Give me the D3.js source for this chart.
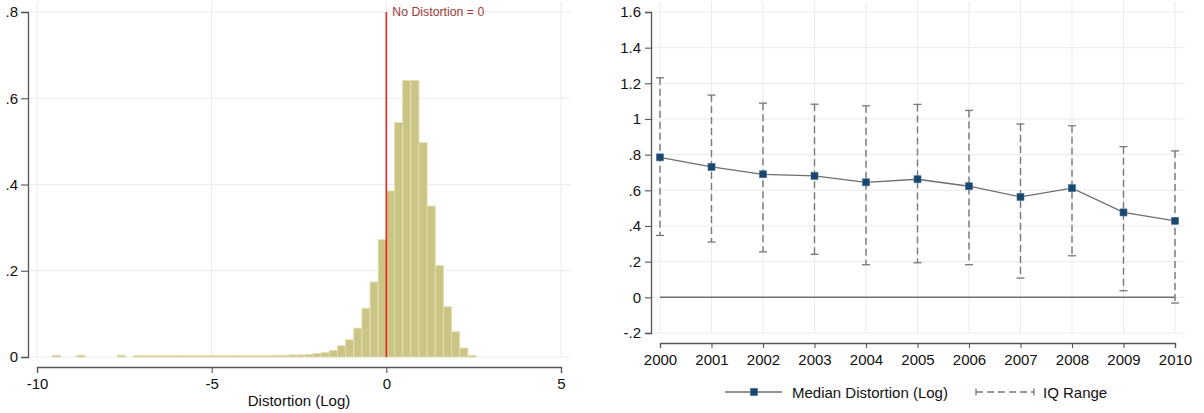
<!DOCTYPE html>
<html>
<head>
<meta charset="utf-8">
<script src="https://cdn.jsdelivr.net/npm/d3@7"></script>
<style>
  body { margin: 0; background: #fff; }
  svg { display: block; }
  text { font-family: "Liberation Sans", Arial, sans-serif; fill: #111; }
</style>
</head>
<body>
<div id="chart"></div>
<script>
// size of svg
var svgWidth = 1204;
var svgHeight = 413;

// histogram data: bins start at binStart, each binWidth wide
var binStart = -9.56;
var binWidth = 0.2332;
var density = [
  0.004, 0, 0, 0.004, 0, 0, 0, 0, 0.004, 0,
  0.003, 0.003, 0.003, 0.003, 0.003, 0.003, 0.003, 0.003, 0.003, 0.003,
  0.003, 0.003, 0.003, 0.003, 0.003, 0.003, 0.003, 0.004, 0.004, 0.005,
  0.005, 0.006, 0.008, 0.010, 0.015, 0.026, 0.040, 0.067, 0.113, 0.174,
  0.272, 0.385, 0.544, 0.641, 0.641, 0.497, 0.350, 0.212, 0.1165, 0.0586,
  0.0208, 0.004
];
var histXTicks = [-10, -5, 0, 5];
var histYTicks = [0, 0.2, 0.4, 0.6, 0.8];

// yearly median and IQ range
var years = [2000, 2001, 2002, 2003, 2004, 2005, 2006, 2007, 2008, 2009, 2010];
var median = [0.785, 0.731, 0.690, 0.681, 0.645, 0.662, 0.623, 0.563, 0.612, 0.476, 0.429];
var iqHigh = [1.231, 1.134, 1.089, 1.083, 1.074, 1.082, 1.048, 0.972, 0.962, 0.845, 0.821];
var iqLow = [0.347, 0.310, 0.255, 0.241, 0.183, 0.194, 0.183, 0.108, 0.233, 0.037, -0.032];
var lineYTicks = [-0.2, 0, 0.2, 0.4, 0.6, 0.8, 1, 1.2, 1.4, 1.6];

var gridColor = "#ebebeb";
var axisColor = "#555";

// stata style labels: .8 instead of 0.8
function stataFmt(d) {
  var s = String(+d.toFixed(2));
  return s.replace(/^0\./, ".").replace(/^-0\./, "-.");
}

var svg = d3.select("#chart")
  .append("svg")
  .attr("width", svgWidth)
  .attr("height", svgHeight);

function styleAxis(g) {
  g.selectAll("path.domain").attr("stroke", axisColor).attr("stroke-width", 1.3);
  g.selectAll(".tick line").attr("stroke", axisColor).attr("stroke-width", 1.1);
  g.selectAll(".tick text")
    .attr("fill", "#111")
    .style("font-size", "15px")
    .style("font-family", "'Liberation Sans', Arial, sans-serif");
}

// ---------------- left: histogram ----------------
var hx = d3.scaleLinear().domain([-10, 5]).range([37, 561]);
var hy = d3.scaleLinear().domain([0, 0.8]).range([357, 12]);
var left = svg.append("g");

// gridlines
left.selectAll("line.hgrid")
  .data(histYTicks)
  .enter().append("line")
  .attr("x1", 28).attr("x2", 571)
  .attr("y1", d => hy(d)).attr("y2", d => hy(d))
  .attr("stroke", gridColor).attr("stroke-width", 1);

left.selectAll("line.vgrid")
  .data(histXTicks)
  .enter().append("line")
  .attr("x1", d => hx(d)).attr("x2", d => hx(d))
  .attr("y1", 2).attr("y2", hy(0))
  .attr("stroke", gridColor).attr("stroke-width", 1);

// bars
var bins = density.map((v, i) => ({ x0: binStart + i * binWidth, x1: binStart + (i + 1) * binWidth, v: v }))
  .filter(d => d.v > 0);

left.selectAll("rect.bar")
  .data(bins)
  .enter().append("rect")
  .attr("x", d => hx(d.x0))
  .attr("width", d => hx(d.x1) - hx(d.x0))
  .attr("y", d => hy(d.v))
  .attr("height", d => hy(0) - hy(d.v))
  .attr("fill", "#cbc585")
  .attr("stroke", "#e2deb2")
  .attr("stroke-width", 0.9);

// no distortion line
left.append("line")
  .attr("x1", hx(0)).attr("x2", hx(0))
  .attr("y1", hy(0)).attr("y2", hy(0.8))
  .attr("stroke", "#e8261f").attr("stroke-width", 1.6);

left.append("text")
  .attr("x", hx(0) + 6)
  .attr("y", hy(0.8) + 4)
  .style("font-size", "12.3px")
  .style("fill", "#9c3b3b")
  .text("No Distortion = 0");

// axes
var hyAxis = left.append("g")
  .attr("transform", "translate(28,0)")
  .call(d3.axisLeft(hy).tickValues(histYTicks).tickFormat(stataFmt).tickSizeOuter(0).tickSize(7).tickPadding(3));
styleAxis(hyAxis);

var hxAxis = left.append("g")
  .attr("transform", "translate(0,367)")
  .call(d3.axisBottom(hx).tickValues(histXTicks).tickFormat(d3.format("d")).tickSizeOuter(0).tickSize(6).tickPadding(5));
styleAxis(hxAxis);
hxAxis.selectAll(".tick text").text(d => d < 0 ? "-" + Math.abs(d) : d);

left.append("text")
  .attr("x", 299)
  .attr("y", 406)
  .attr("text-anchor", "middle")
  .style("font-size", "15px")
  .text("Distortion (Log)");

// ---------------- right: median over time ----------------
var lx = d3.scaleLinear().domain([2000, 2010]).range([660, 1175]);
var ly = d3.scaleLinear().domain([-0.2, 1.6]).range([333, 12]);
var right = svg.append("g");

right.selectAll("line.hgrid")
  .data(lineYTicks)
  .enter().append("line")
  .attr("x1", 651).attr("x2", 1185)
  .attr("y1", d => ly(d)).attr("y2", d => ly(d))
  .attr("stroke", gridColor).attr("stroke-width", 1);

right.selectAll("line.vgrid")
  .data(years)
  .enter().append("line")
  .attr("x1", d => lx(d)).attr("x2", d => lx(d))
  .attr("y1", 2).attr("y2", ly(-0.2))
  .attr("stroke", gridColor).attr("stroke-width", 1);

// zero line
right.append("line")
  .attr("x1", lx(2000)).attr("x2", lx(2010))
  .attr("y1", ly(0)).attr("y2", ly(0))
  .attr("stroke", "#6e6e6e").attr("stroke-width", 1.5);

var rows = years.map((yr, i) => ({ year: yr, med: median[i], lo: iqLow[i], hi: iqHigh[i] }));

// IQ range dashed spikes with caps
var rangeColor = "#777";
right.selectAll("line.iq")
  .data(rows)
  .enter().append("line")
  .attr("x1", d => lx(d.year)).attr("x2", d => lx(d.year))
  .attr("y1", d => ly(d.hi)).attr("y2", d => ly(d.lo))
  .attr("stroke", rangeColor).attr("stroke-width", 1.4)
  .attr("stroke-dasharray", "7,4");

["hi", "lo"].forEach(k => {
  right.selectAll("line.cap" + k)
    .data(rows)
    .enter().append("line")
    .attr("x1", d => lx(d.year) - 4).attr("x2", d => lx(d.year) + 4)
    .attr("y1", d => ly(d[k])).attr("y2", d => ly(d[k]))
    .attr("stroke", rangeColor).attr("stroke-width", 1.3);
});

// median line and markers
var line = d3.line().x(d => lx(d.year)).y(d => ly(d.med));
right.append("path")
  .datum(rows)
  .attr("d", line)
  .attr("fill", "none")
  .attr("stroke", "#6e6e6e")
  .attr("stroke-width", 1.3);

right.selectAll("rect.mk")
  .data(rows)
  .enter().append("rect")
  .attr("x", d => lx(d.year) - 3.5)
  .attr("y", d => ly(d.med) - 3.5)
  .attr("width", 7).attr("height", 7)
  .attr("fill", "#1a476f")
  .attr("stroke", "#3d6b92").attr("stroke-width", 0.6);

// axes
var lyAxis = right.append("g")
  .attr("transform", "translate(651,0)")
  .call(d3.axisLeft(ly).tickValues(lineYTicks).tickFormat(stataFmt).tickSizeOuter(0).tickSize(6).tickPadding(4));
styleAxis(lyAxis);

var lxAxis = right.append("g")
  .attr("transform", "translate(0,343)")
  .call(d3.axisBottom(lx).tickValues(years).tickFormat(d3.format("d")).tickSizeOuter(0).tickSize(5).tickPadding(6));
styleAxis(lxAxis);

// legend
var legY = 392;
var legend = right.append("g");
legend.append("line")
  .attr("x1", 725).attr("x2", 782).attr("y1", legY).attr("y2", legY)
  .attr("stroke", "#6e6e6e").attr("stroke-width", 1.3);
legend.append("rect")
  .attr("x", 754 - 3.5).attr("y", legY - 3.5).attr("width", 7).attr("height", 7)
  .attr("fill", "#1a476f").attr("stroke", "#3d6b92").attr("stroke-width", 0.6);
legend.append("text")
  .attr("x", 792).attr("y", legY + 5.5)
  .style("font-size", "15px")
  .text("Median Distortion (Log)");

legend.append("line")
  .attr("x1", 976).attr("x2", 1034).attr("y1", legY).attr("y2", legY)
  .attr("stroke", rangeColor).attr("stroke-width", 1.3)
  .attr("stroke-dasharray", "7,4");
[976, 1034].forEach(cx => {
  legend.append("line")
    .attr("x1", cx).attr("x2", cx).attr("y1", legY - 3.5).attr("y2", legY + 3.5)
    .attr("stroke", rangeColor).attr("stroke-width", 1.3);
});
legend.append("text")
  .attr("x", 1043).attr("y", legY + 5.5)
  .style("font-size", "15px")
  .text("IQ Range");
</script>
</body>
</html>
